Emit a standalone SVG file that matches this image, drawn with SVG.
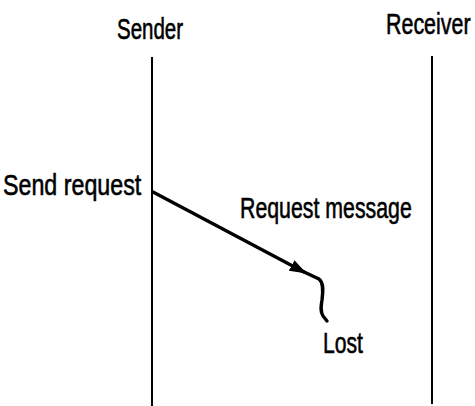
<svg xmlns="http://www.w3.org/2000/svg" width="475" height="406" viewBox="0 0 475 406">
  <style>
    .lbl { font-family: "Liberation Sans", Arial, sans-serif; font-size: 30px; fill: #000; stroke: #000; stroke-width: 0.6px; }
    .life { stroke: #000; stroke-width: 2; fill: none; }
    .msg { stroke: #000; stroke-width: 3.4; fill: none; stroke-linecap: round; stroke-linejoin: round; }
  </style>
  <defs>
    <marker id="head" markerUnits="userSpaceOnUse" markerWidth="18" markerHeight="13" refX="14" refY="6" orient="auto">
      <path d="M0,0 L17,6 L0,12 z" fill="#000"/>
    </marker>
  </defs>
  <rect width="475" height="406" fill="#fff"/>

  <!-- sender lifeline; labels use a narrow horizontal scale -->
  <g id="sender">
    <text class="lbl" transform="translate(117,39) scale(0.683,1)">Sender</text>
    <line class="life" x1="152" y1="57" x2="152" y2="406"/>
  </g>

  <!-- receiver lifeline -->
  <g id="receiver">
    <text class="lbl" transform="translate(386,34) scale(0.715,1)">Receiver</text>
    <line class="life" x1="432" y1="56" x2="432" y2="404"/>
  </g>

  <!-- event labels -->
  <g id="send-request">
    <text class="lbl" transform="translate(3,195) scale(0.775,1)">Send request</text>
  </g>
  <g id="request-message">
    <text class="lbl" transform="translate(240,218) scale(0.711,1)">Request message</text>
  </g>
  <g id="lost">
    <text class="lbl" transform="translate(323,353) scale(0.705,1)">Lost</text>
  </g>

  <!-- message that never arrives -->
  <g id="connectors">
    <line class="msg" x1="153" y1="192" x2="304" y2="272" marker-end="url(#head)"/>
    <path class="msg" d="M302,271 L319,279 C324,283 323,292 322,300 C321,306 320,311 323,316 L327,321"/>
  </g>
</svg>
